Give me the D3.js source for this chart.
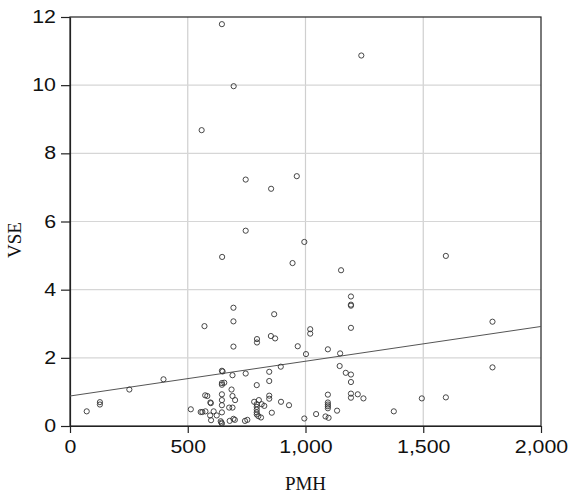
<!DOCTYPE html>
<html>
<head>
<meta charset="utf-8">
<script src="https://cdn.jsdelivr.net/npm/d3@7"></script>
<style>
  body { margin: 0; background: #fff; }
  svg { display: block; }
</style>
</head>
<body>
<div id="chart"></div>
<script>
// PMH values (x)
const pmh = [
  645, 695, 559, 746, 854, 963, 746, 1237, 995,
  646, 945, 694, 867, 694, 571, 794, 794, 853, 871, 694, 967,
  645, 648, 690, 746, 846, 895, 397, 252, 127, 127, 71,
  645, 645, 655, 793, 846, 686, 645, 690, 701, 645, 574, 583, 596, 598,
  645, 676, 690, 782, 802, 793, 793, 793, 793, 814, 825, 846, 846, 896, 930,
  857, 513, 555, 562, 575, 610, 645, 595, 623, 599, 640, 643, 645,
  678, 694, 700, 743, 753, 793, 800, 811,
  1151, 1596, 1193, 1193, 1193, 1794, 1193, 1020, 1020, 1002, 1095, 1147,
  1145, 1171, 1193, 1193, 1794, 1095, 1095, 1095, 1095, 1095,
  1193, 1193, 1222, 1246, 1134, 1045, 995, 1085, 1098, 1375, 1494, 1596
];
// VSE values (y)
const vse = [
  11.79, 9.97, 8.68, 7.23, 6.96, 7.33, 5.73, 10.87, 5.40,
  4.96, 4.78, 3.47, 3.28, 3.07, 2.93, 2.55, 2.45, 2.64, 2.57, 2.33, 2.34,
  1.62, 1.60, 1.49, 1.54, 1.59, 1.74, 1.37, 1.07, 0.70, 0.63, 0.43,
  1.26, 1.21, 1.27, 1.20, 1.32, 1.07, 0.93, 0.88, 0.76, 0.76, 0.90, 0.88, 0.69, 0.67,
  0.61, 0.54, 0.54, 0.71, 0.76, 0.64, 0.56, 0.48, 0.40, 0.64, 0.59, 0.89, 0.80, 0.71, 0.61,
  0.39, 0.49, 0.41, 0.41, 0.43, 0.43, 0.40, 0.31, 0.31, 0.17, 0.14, 0.10, 0.07,
  0.15, 0.21, 0.18, 0.15, 0.18, 0.34, 0.29, 0.25,
  4.57, 4.99, 3.80, 3.56, 3.53, 3.06, 2.88, 2.84, 2.71, 2.11, 2.25, 2.13,
  1.76, 1.56, 1.51, 1.29, 1.72, 0.92, 0.69, 0.63, 0.58, 0.52,
  0.95, 0.83, 0.93, 0.81, 0.45, 0.35, 0.22, 0.28, 0.24, 0.43, 0.81, 0.84
];
// fitted line
const fitIntercept = 0.88;
const fitSlope = 0.00102;

const xTicks = [0, 500, 1000, 1500, 2000];
const yTicks = [0, 2, 4, 6, 8, 10, 12];

const svgWidth = 569;
const svgHeight = 493;
const margin = { top: 17, right: 28, bottom: 67, left: 70 };
const width = svgWidth - margin.left - margin.right;
const height = svgHeight - margin.top - margin.bottom;

const svg = d3.select("#chart")
  .append("svg")
  .attr("width", svgWidth)
  .attr("height", svgHeight);

const chartGroup = svg.append("g")
  .attr("transform", `translate(${margin.left}, ${margin.top})`);

const x = d3.scaleLinear().domain([0, 2000]).range([0, width]);
const y = d3.scaleLinear().domain([0, 12]).range([height, 0]);

// grid
chartGroup.append("g")
  .selectAll("line.vg")
  .data(xTicks.slice(1, -1))
  .join("line")
  .attr("x1", d => x(d)).attr("x2", d => x(d))
  .attr("y1", 0).attr("y2", height)
  .attr("stroke", "#cfcfcf").attr("stroke-width", 1.2);

chartGroup.append("g")
  .selectAll("line.hg")
  .data(yTicks.slice(1, -1))
  .join("line")
  .attr("y1", d => y(d)).attr("y2", d => y(d))
  .attr("x1", 0).attr("x2", width)
  .attr("stroke", "#d6d6d6").attr("stroke-width", 1.2);

// frame
chartGroup.append("rect")
  .attr("width", width).attr("height", height)
  .attr("fill", "none").attr("stroke", "#222").attr("stroke-width", 1.2);

// axes
const bottomAxis = d3.axisBottom(x)
  .tickValues(xTicks)
  .tickFormat(d3.format(","))
  .tickSize(7).tickSizeOuter(0);
const leftAxis = d3.axisLeft(y)
  .tickValues(yTicks)
  .tickSize(9).tickSizeOuter(0);

const xAxisG = chartGroup.append("g")
  .attr("transform", `translate(0, ${height})`)
  .call(bottomAxis);
const yAxisG = chartGroup.append("g").call(leftAxis);

[xAxisG, yAxisG].forEach(g => {
  g.select(".domain").attr("stroke", "#222").attr("stroke-width", 1.2);
  g.selectAll(".tick line").attr("stroke", "#222").attr("stroke-width", 1.2);
  g.selectAll(".tick text")
    .attr("fill", "#111")
    .style("font-family", "'Liberation Sans', Arial, sans-serif")
    .style("font-size", "17.5px");
  // the source labels are drawn a bit wide, stretch them
  g.selectAll(".tick text").each(function() {
    const len = this.getComputedTextLength();
    d3.select(this)
      .attr("textLength", len * 1.22)
      .attr("lengthAdjust", "spacingAndGlyphs");
  });
});
xAxisG.selectAll(".tick text").attr("dy", "0.95em");
yAxisG.selectAll(".tick text").attr("x", -14);

// regression line
chartGroup.append("line")
  .attr("x1", x(0)).attr("y1", y(fitIntercept))
  .attr("x2", x(2000)).attr("y2", y(fitIntercept + fitSlope * 2000))
  .attr("stroke", "#555").attr("stroke-width", 1);

// points
chartGroup.append("g")
  .selectAll("circle")
  .data(d3.range(pmh.length))
  .join("circle")
  .attr("cx", i => x(pmh[i]))
  .attr("cy", i => y(vse[i]))
  .attr("r", 2.6)
  .attr("fill", "none")
  .attr("stroke", "#333")
  .attr("stroke-width", 0.9);

// axis titles
svg.append("text")
  .attr("x", margin.left + width / 2)
  .attr("y", 490)
  .attr("text-anchor", "middle")
  .style("font-family", "'Liberation Serif', 'Times New Roman', serif")
  .style("font-size", "19px")
  .attr("fill", "#111")
  .text("PMH");

svg.append("text")
  .attr("transform", "translate(21, 240) rotate(-90)")
  .attr("text-anchor", "middle")
  .style("font-family", "'Liberation Serif', 'Times New Roman', serif")
  .style("font-size", "19px")
  .attr("fill", "#111")
  .text("VSE");
</script>
</body>
</html>
